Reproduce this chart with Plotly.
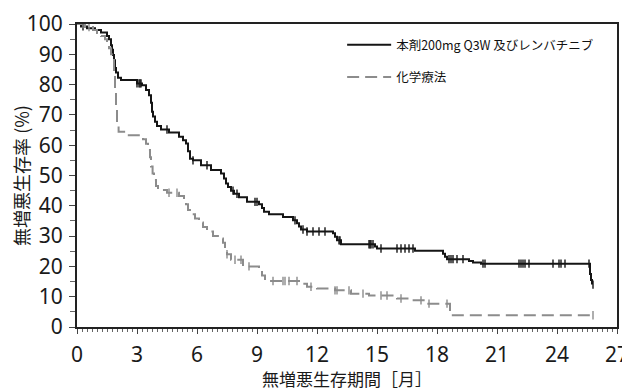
import plotly.graph_objects as go
import numpy as np

# ---- data ----
name_black = "本剤200mg Q3W 及びレンバチニブ"
name_grey = "化学療法"

t_black = [0, 0.2, 0.5, 0.9, 1.2, 1.5, 1.6, 1.7, 1.75, 1.8, 1.85, 1.9, 1.95, 2.05, 2.2,
           3.0, 3.25, 3.45, 3.6, 3.7, 3.75, 3.8, 3.9, 4.0, 4.2, 4.6, 5.1, 5.3, 5.45,
           5.55, 5.65, 5.8, 6.2, 6.7, 7.2, 7.35, 7.45, 7.55, 7.7, 7.85, 8.1, 8.5, 9.1,
           9.25, 9.35, 9.6, 10.3, 10.8, 11.0, 11.1, 11.2, 11.5, 12.8, 12.9, 13.0, 13.2,
           14.9, 15.0, 16.9, 18.3, 18.4, 18.5, 19.6, 19.8, 20.2, 25.65, 25.7, 25.75]
v_black = [100, 99.2, 98.6, 98, 97.2, 96, 95, 93, 91.5, 89.8, 88, 85.5, 84, 82.3, 81.5,
           80.4, 79.8, 78.2, 76.5, 74, 71, 69.5, 67.7, 66.3, 65.2, 64.2, 62.8, 61.6, 60.6,
           58, 55.5, 55, 53.4, 51.8, 50.7, 49, 47.4, 46.2, 45, 44, 42.8, 41.3, 40.5,
           39.3, 38, 37.2, 36.3, 35.2, 34.2, 33.2, 32.2, 31.5, 30.9, 29.8, 28.6, 27.3,
           26.6, 25.9, 25.2, 24.2, 23.2, 22.4, 21.8, 21.3, 20.9, 17.5, 15.5, 14]

t_grey = [0, 0.4, 0.8, 1.0, 1.2, 1.4, 1.5, 1.6, 1.7, 1.8, 1.85, 1.9, 1.95, 2.0, 2.08,
          2.5, 3.3, 3.45, 3.55, 3.65, 3.7, 3.78, 3.85, 3.95, 4.05, 4.5, 5.1, 5.35, 5.45,
          5.55, 5.7, 5.9, 6.1, 6.3, 6.5, 6.8, 7.2, 7.3, 7.4, 7.5, 7.7, 8.3, 9.1, 9.25,
          9.4, 11.1, 11.5, 12.0, 12.9, 13.7, 14.6, 16.0, 16.7, 17.4, 18.65]
v_grey = [100, 99, 98, 97, 96, 95, 93.6, 92, 90, 88.7, 84, 78, 72, 67, 64.4,
          63.3, 62, 60.5, 58.4, 56, 53, 50.7, 48.5, 46.5, 45.2, 44.3, 43.2, 41.9, 40.5,
          38.6, 37.2, 35.8, 34.5, 33, 31.5, 30, 29.2, 27.8, 26, 24, 22.2, 20, 19.2, 17,
          15.2, 14.3, 13.3, 12.7, 12.1, 11, 10.4, 9.4, 8.8, 7.7, 3.9]
t_grey_end = 25.8

cens_black = [0.3, 3.0, 3.1, 3.15, 3.2, 4.5, 5.8, 6.5, 7.8, 8.0, 8.9, 9.0, 10.9, 11.3,
              11.5, 11.8, 12.1, 12.4, 13.1, 13.15, 14.6, 14.65, 14.7, 14.8, 15.2, 16.0,
              16.2, 16.4, 16.6, 16.8, 18.6, 18.7, 18.8, 19.0, 19.3, 20.3, 20.4, 22.1,
              22.2, 22.3, 22.4, 22.6, 23.8, 24.1, 24.2, 24.4, 25.6, 25.8]
cens_grey = [0.3, 0.6, 4.6, 5.0, 7.5, 7.9, 8.2, 8.6, 9.8, 10.3, 10.4, 10.6, 11.0, 11.7,
             12.9, 13.0, 13.6, 14.3, 15.2, 15.5, 16.2, 17.2, 17.6, 18.5, 25.8]

x_ticks = [0, 3, 6, 9, 12, 15, 18, 21, 24, 27]
y_ticks = [0, 10, 20, 30, 40, 50, 60, 70, 80, 90, 100]

BLACK = "#151515"
GREY = "#8c8c8c"
JP = "Noto Sans CJK JP"


def step_at(ts, vs, q):
    idx = np.searchsorted(np.array(ts), q, side="right") - 1
    return [vs[max(i, 0)] for i in idx]


fig = go.Figure()

fig.add_trace(go.Scatter(
    x=t_black, y=v_black, mode="lines", line=dict(color=BLACK, width=2, shape="hv"),
    name=name_black, legendgroup="a", legendrank=1))
fig.add_trace(go.Scatter(
    x=t_grey + [t_grey_end], y=v_grey + [v_grey[-1]], mode="lines",
    line=dict(color=GREY, width=2, shape="hv", dash="12px,6px"),
    name=name_grey, legendgroup="b", legendrank=2))

fig.add_trace(go.Scatter(
    x=cens_black, y=step_at(t_black, v_black, cens_black), mode="markers",
    marker=dict(symbol="line-ns", size=6, line=dict(color=BLACK, width=1.4)),
    showlegend=False, hoverinfo="skip"))
fig.add_trace(go.Scatter(
    x=cens_grey, y=step_at(t_grey, v_grey, cens_grey), mode="markers",
    marker=dict(symbol="line-ns", size=6, line=dict(color=GREY, width=1.4)),
    showlegend=False, hoverinfo="skip"))

# the page body has an 8px margin, so the figure is sized/offset to compensate
fig.update_layout(
    width=622, height=383,
    margin=dict(l=69, r=13, t=16, b=64),
    paper_bgcolor="white", plot_bgcolor="white",
    font=dict(family=JP, color="#1a1a1a"),
    showlegend=True,
    legend=dict(x=0.491, y=0.98, xanchor="left", yanchor="top",
                bgcolor="rgba(0,0,0,0)", font=dict(size=12.5, family=JP, color="#111"),
                traceorder="grouped", tracegroupgap=13, itemwidth=44),
    xaxis=dict(range=[0, 27], tickvals=x_ticks, ticktext=[str(v) for v in x_ticks],
               showgrid=False, zeroline=False, automargin=False,
               showline=True, linecolor="#222", linewidth=2, mirror=True,
               ticks="outside", ticklen=5, tickwidth=1.3, tickcolor="#444",
               ticklabelstandoff=3,
               minor=dict(dtick=0.25, tick0=0, ticks="outside", ticklen=3,
                          tickwidth=1, tickcolor="#666"),
               tickfont=dict(family="Noto Sans", size=21, color="#1a1a1a"),
               title=dict(text="無増悪生存期間［月］", font=dict(family=JP, size=17),
                          standoff=8)),
    yaxis=dict(range=[0, 100], tickvals=y_ticks, ticktext=[str(v) for v in y_ticks],
               showgrid=False, zeroline=False, automargin=False,
               showline=True, linecolor="#222", linewidth=2, mirror=True,
               ticks="outside", ticklen=6, tickwidth=1.3, tickcolor="#444",
               ticklabelstandoff=2,
               minor=dict(dtick=5, tick0=0, ticks="outside", ticklen=5,
                          tickwidth=1, tickcolor="#666"),
               tickfont=dict(family="Noto Sans", size=21, color="#1a1a1a"),
               title=dict(text="無増悪生存率 (%)", font=dict(family=JP, size=18),
                          standoff=0)),
)

fig.write_html("out.html")
